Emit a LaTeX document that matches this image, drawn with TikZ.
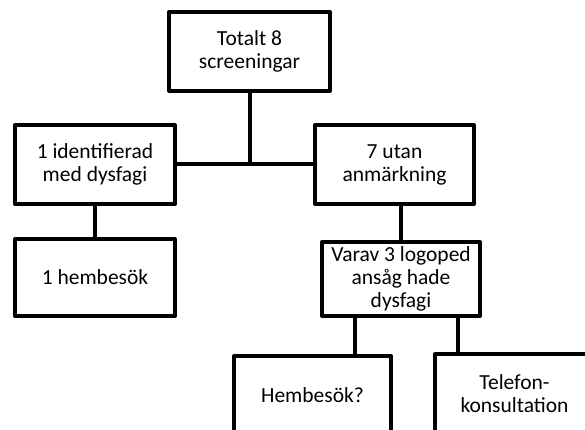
\documentclass[tikz,border=0pt]{standalone}
\usepackage{fontspec}
\setmainfont{Carlito}

\tikzset{
	box/.style={draw, line width=4pt, line join=round, inner sep=0pt,
		align=center, font=\fontsize{21.5}{23}\selectfont},
	link/.style={line width=4pt}
}

\begin{document}
\begin{tikzpicture}[x=1pt, y=-1pt]
		% page frame
		\useasboundingbox (0,0) rectangle (585,430);
		\clip (0,0) rectangle (585,430);
		
		% top level
		\node[box, minimum width=161pt, minimum height=79pt] (total) at (249.5,51.5) {Totalt 8\\screeningar};
		
		% second level
		\node[box, minimum width=160pt, minimum height=79pt] (dysf) at (95,164.5) {1 identifierad\\med dysfagi};
		\node[box, minimum width=159pt, minimum height=79pt] (utan) at (394.5,164.5) {7 utan\\anmärkning};
		
		% third level
		\node[box, minimum width=160pt, minimum height=77pt] (hemb) at (95,277.5) {1 hembesök};
		\node[box, minimum width=158pt, minimum height=74pt] (varav) at (401,279) {Varav 3 logoped\\ansåg hade\\dysfagi};
		
		% fourth level (runs off the page)
		\node[box, minimum width=157pt, minimum height=79pt] (hembq) at (312.5,395.5) {Hembesök?};
		\node[box, minimum width=159pt, minimum height=79pt] (tel) at (514.5,393.5) {Telefon-\\konsultation};
		
		% connectors
		\draw[link] (dysf.east) -- (utan.west);
		\draw[link] (total.south) -- (total.south |- dysf.east);
		\draw[link] (dysf.south) -- (hemb.north);
		\draw[link] (varav.north |- utan.south) -- (varav.north);
		\draw[link] ([xshift=-46pt]varav.south) -- ([xshift=-46pt]varav.south |- hembq.north);
		\draw[link] ([xshift=57pt]varav.south) -- ([xshift=57pt]varav.south |- tel.north);
	\end{tikzpicture}
\end{document}
